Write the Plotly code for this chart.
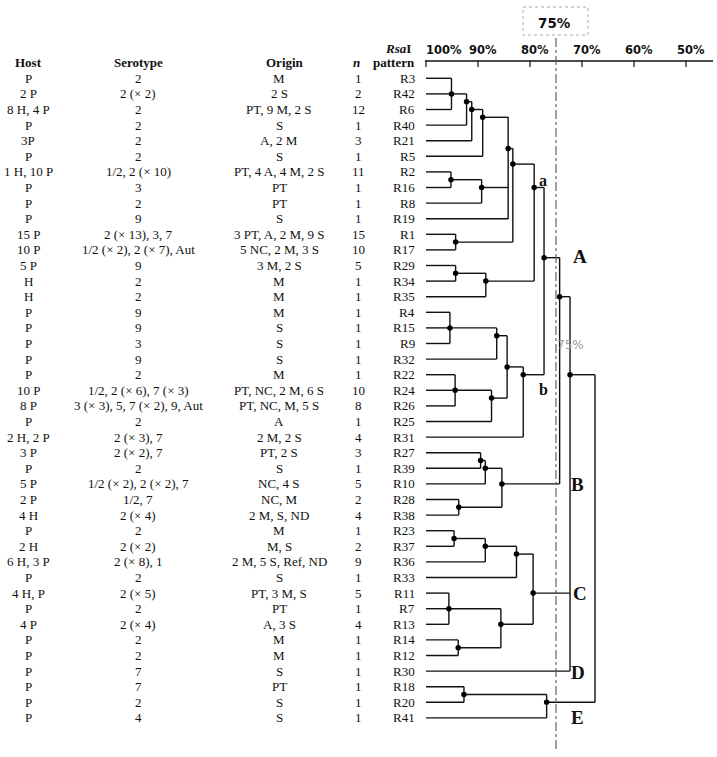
import plotly.graph_objects as go

# ---------------- data ----------------
hosts = ["P", "2 P", "8 H, 4 P", "P", "3P", "P", "1 H, 10 P", "P", "P", "P",
         "15 P", "10 P", "5 P", "H", "H", "P", "P", "P", "P", "P",
         "10 P", "8 P", "P", "2 H, 2 P", "3 P", "P", "5 P", "2 P", "4 H", "P",
         "2 H", "6 H, 3 P", "P", "4 H, P", "P", "4 P", "P", "P", "P", "P",
         "P", "P"]
serotypes = ["2", "2 (× 2)", "2", "2", "2", "2", "1/2, 2 (× 10)", "3", "2", "9",
             "2 (× 13), 3, 7", "1/2 (× 2), 2 (× 7), Aut", "9", "2", "2", "9", "9", "3", "9", "2",
             "1/2, 2 (× 6), 7 (× 3)", "3 (× 3), 5, 7 (× 2), 9, Aut", "2", "2 (× 3), 7", "2 (× 2), 7",
             "2", "1/2 (× 2), 2 (× 2), 7", "1/2, 7", "2 (× 4)", "2",
             "2 (× 2)", "2 (× 8), 1", "2", "2 (× 5)", "2", "2 (× 4)", "2", "2", "7", "7",
             "2", "4"]
origins = ["M", "2 S", "PT, 9 M, 2 S", "S", "A, 2 M", "S", "PT, 4 A, 4 M, 2 S", "PT", "PT", "S",
           "3 PT, A, 2 M, 9 S", "5 NC, 2 M, 3 S", "3 M, 2 S", "M", "M", "M", "S", "S", "S", "M",
           "PT, NC, 2 M, 6 S", "PT, NC, M, 5 S", "A", "2 M, 2 S", "PT, 2 S", "S", "NC, 4 S", "NC, M",
           "2 M, S, ND", "M", "M, S", "2 M, 5 S, Ref, ND", "S", "PT, 3 M, S", "PT", "A, 3 S", "M", "M",
           "S", "PT", "S", "S"]
n_values = [1, 2, 12, 1, 3, 1, 11, 1, 1, 1, 15, 10, 5, 1, 1, 1, 1, 1, 1, 1,
            10, 8, 1, 4, 3, 1, 5, 2, 4, 1, 2, 9, 1, 5, 1, 4, 1, 1, 1, 1, 1, 1]
patterns = ["R3", "R42", "R6", "R40", "R21", "R5", "R2", "R16", "R8", "R19",
            "R1", "R17", "R29", "R34", "R35", "R4", "R15", "R9", "R32", "R22",
            "R24", "R26", "R25", "R31", "R27", "R39", "R10", "R28", "R38", "R23",
            "R37", "R36", "R33", "R11", "R7", "R13", "R14", "R12", "R30", "R18",
            "R20", "R41"]

# dendrogram: merges (node name, members, similarity %)
node_names = ["n1", "n2", "n3", "n4", "n5", "n6", "n7", "n8", "n9", "n10",
              "n11", "a", "n13", "n14", "n15", "n16", "n17", "b", "A", "n20",
              "n21", "n22", "B", "AB", "n25", "n26", "n27", "n28", "n29", "n30",
              "C", "ABCD", "n33", "E", "root"]
node_members = [["R3", "R42", "R6"], ["n1", "R40"], ["n2", "R21"], ["n3", "R5"],
                ["R2", "R16"], ["n5", "R8"], ["n4", "n6", "R19"], ["R1", "R17"],
                ["n7", "n8"], ["R29", "R34"], ["n10", "R35"], ["n9", "n11"],
                ["R4", "R15", "R9"], ["n13", "R32"], ["R22", "R24", "R26"], ["n15", "R25"],
                ["n14", "n16"], ["n17", "R31"], ["a", "b"], ["R27", "R39"],
                ["n20", "R10"], ["R28", "R38"], ["n21", "n22"], ["A", "B"],
                ["R23", "R37"], ["n25", "R36"], ["n26", "R33"], ["R11", "R7", "R13"],
                ["R14", "R12"], ["n28", "n29"], ["n27", "n30"], ["AB", "C", "R30"],
                ["R18", "R20"], ["n33", "R41"], ["ABCD", "E"]]
node_similarity = [95.1, 92.2, 91.2, 89.1, 95.2, 89.3, 84.2, 94.3, 83.3, 94.3,
                   88.5, 79.2, 95.4, 86.4, 94.4, 87.4, 84.4, 81.3, 77.3, 89.5,
                   88.6, 93.7, 85.4, 74.3, 94.6, 88.6, 82.6, 95.6, 93.8, 85.6,
                   79.4, 72.3, 92.7, 76.8, 67.5]

scale_ticks = [100, 90, 80, 70, 60, 50]
tick_labels = ["100%", "90%", "80%", "70%", "60%", "50%"]
cutoff = 75

# ---------------- geometry helpers ----------------
W, H = 717, 757
PX100, PX_PER_PCT = 426.0, 5.2
ROW0, ROWH = 78.3, 15.6
x_range = [100 + PX100 / PX_PER_PCT, 100 - (W - PX100) / PX_PER_PCT]
y_range = [(H - ROW0) / ROWH, -ROW0 / ROWH]


def ypx(py):
    return (py - ROW0) / ROWH


def xpx(px):
    return 100 - (px - PX100) / PX_PER_PCT


# ---------------- build dendrogram ----------------
leaf_index = {p: i for i, p in enumerate(patterns)}
leaves_of = {p: [i] for p, i in leaf_index.items()}
exit_y, node_x = {}, {}
for p, i in leaf_index.items():
    exit_y[p] = i
    node_x[p] = 100

lx, ly, dx, dy = [], [], [], []
for name, members, sim in zip(node_names, node_members, node_similarity):
    ys = [exit_y[m] for m in members]
    for m in members:
        lx += [node_x[m], sim, None]
        ly += [exit_y[m], exit_y[m], None]
    lx += [sim, sim, None]
    ly += [min(ys), max(ys), None]
    lv = [i for m in members for i in leaves_of[m]]
    leaves_of[name] = lv
    exit_y[name] = sum(lv) / len(lv)
    node_x[name] = sim
    if name != "root":
        dx.append(sim)
        dy.append(exit_y[name])

fig = go.Figure()
fig.add_trace(go.Scatter(x=lx, y=ly, mode="lines",
                         line=dict(color="#111111", width=1.4),
                         hoverinfo="skip", showlegend=False))
fig.add_trace(go.Scatter(x=dx, y=dy, mode="markers",
                         marker=dict(color="#000000", size=5.5),
                         hoverinfo="skip", showlegend=False))

# scale axis line and ticks
ax_y = ypx(61)
fig.add_trace(go.Scatter(x=[100.2, xpx(713)], y=[ax_y, ax_y], mode="lines",
                         line=dict(color="#111111", width=1.5),
                         hoverinfo="skip", showlegend=False))
tx, ty = [], []
for t in scale_ticks:
    tx += [t, t, None]
    ty += [ax_y, ypx(67), None]
fig.add_trace(go.Scatter(x=tx, y=ty, mode="lines",
                         line=dict(color="#111111", width=1.2),
                         hoverinfo="skip", showlegend=False))

# 75% cut-off line
fig.add_trace(go.Scatter(x=[cutoff, cutoff], y=[ypx(38), ypx(750)], mode="lines",
                         line=dict(color="#555555", width=1.1, dash="dashdot"),
                         hoverinfo="skip", showlegend=False))

annotations = []
serif = "Liberation Serif, Times New Roman, serif"
row_font = dict(family=serif, size=13, color="#111111")
col_x = {"host": 28, "sero": 138, "orig": 279, "n": 358}
for i in range(len(patterns)):
    for key, txt in (("host", hosts[i]), ("sero", serotypes[i]),
                     ("orig", origins[i]), ("n", str(n_values[i]))):
        annotations.append(dict(x=col_x[key] / W, xref="paper", y=i, yref="y",
                                text=txt, showarrow=False, font=row_font,
                                xanchor="center", yanchor="middle"))
    annotations.append(dict(x=417 / W, xref="paper", y=i, yref="y",
                            text=patterns[i], showarrow=False, font=row_font,
                            xanchor="right", yanchor="middle"))

hdr_font = dict(family=serif, size=13, color="#111111")
hy = ypx(62)
for txt, px in (("<b>Host</b>", 28), ("<b>Serotype</b>", 138), ("<b>Origin</b>", 285),
                ("<b><i>n</i></b>", 356), ("<b>pattern</b>", 394)):
    annotations.append(dict(x=px / W, xref="paper", y=hy, yref="y", text=txt,
                            showarrow=False, font=hdr_font, xanchor="center", yanchor="middle"))
annotations.append(dict(x=398 / W, xref="paper", y=ypx(48), yref="y",
                        text="<b><i>Rsa</i>I</b>", showarrow=False, font=hdr_font,
                        xanchor="center", yanchor="middle"))

# scale tick labels
sans = "DejaVu Sans, Verdana, sans-serif"
for t, lab in zip(scale_ticks, tick_labels):
    anchor = "left" if t == 100 else "center"
    annotations.append(dict(x=t, y=ypx(50), xref="x", yref="y", text="<b>" + lab + "</b>",
                            showarrow=False, xanchor=anchor, yanchor="middle",
                            xshift=-2 if t == 100 else 5,
                            font=dict(family=sans, size=11.5, color="#111111")))

# 75% box label
annotations.append(dict(x=xpx(554), y=ypx(23), xref="x", yref="y", text="<b>75%</b>",
                        showarrow=False, xanchor="center", yanchor="middle",
                        font=dict(family=sans, size=13.5, color="#111111")))
annotations.append(dict(x=xpx(570), y=ypx(345), xref="x", yref="y", text="75%",
                        showarrow=False, xanchor="center", yanchor="middle",
                        font=dict(family=sans, size=12, color="#9a9a9a")))

# cluster labels
big = dict(family=serif, size=19, color="#111111")
small = dict(family=serif, size=16, color="#111111")
for txt, px, py, f in (("a", 543, 180, small), ("b", 543, 389, small),
                       ("A", 580, 256, big), ("B", 577, 484, big),
                       ("C", 580, 593, big), ("D", 578, 672, big),
                       ("E", 577, 717, big)):
    annotations.append(dict(x=xpx(px), y=ypx(py), xref="x", yref="y", text="<b>" + txt + "</b>",
                            showarrow=False, xanchor="center", yanchor="middle", font=f))

shapes = [dict(type="rect", xref="x", yref="y", x0=xpx(523), x1=xpx(588),
               y0=ypx(7), y1=ypx(35), line=dict(color="#aaaaaa", width=1, dash="dot"))]

fig.update_layout(
    width=W, height=H, margin=dict(l=0, r=0, t=0, b=0),
    paper_bgcolor="white", plot_bgcolor="white",
    xaxis=dict(range=x_range, visible=False, domain=[0, 1]),
    yaxis=dict(range=y_range, visible=False, domain=[0, 1]),
    annotations=annotations, shapes=shapes, showlegend=False,
)

fig.write_html("out.html", config={"displayModeBar": False, "staticPlot": True},
               post_script="document.body.style.margin='0';")
